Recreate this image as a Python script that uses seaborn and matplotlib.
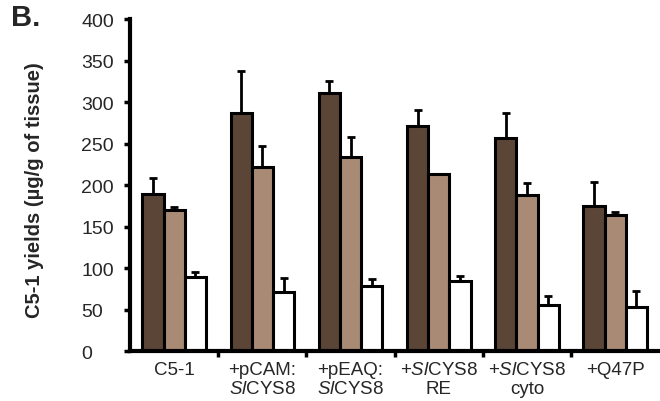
import pandas as pd
import matplotlib
matplotlib.use("Agg")
import matplotlib.pyplot as plt
import seaborn as sns

# values
groups = ["C5-1", "+pCAM:\n$\\it{Sl}$CYS8", "+pEAQ:\n$\\it{Sl}$CYS8",
          "+$\\it{Sl}$CYS8\nRE", "+$\\it{Sl}$CYS8\ncyto", "+Q47P"]
series = ["s1", "s2", "s3"]
s1_vals = [189, 287, 311, 271, 257, 175]
s1_err = [20, 51, 14, 20, 30, 29]
s2_vals = [170, 222, 234, 213, 188, 164]
s2_err = [4, 25, 24, 0, 15, 4]
s3_vals = [89, 71, 78, 85, 55, 53]
s3_err = [6, 17, 9, 6, 12, 20]
yticks = [0, 50, 100, 150, 200, 250, 300, 350, 400]

colors = ["#5b4536", "#a98b75", "#ffffff"]

sns.set_theme(style="white")
plt.rcParams["font.family"] = ["Liberation Sans", "DejaVu Sans"]
plt.rcParams["mathtext.fontset"] = "custom"
plt.rcParams["mathtext.rm"] = "Liberation Sans"
plt.rcParams["mathtext.it"] = "Liberation Sans:italic"

df = pd.DataFrame({
    "group": groups * 3,
    "series": [s for s in series for _ in groups],
    "value": s1_vals + s2_vals + s3_vals,
})
errs = s1_err + s2_err + s3_err

fig = plt.figure(figsize=(6.6, 4.02), dpi=100)
ax = fig.add_axes([0.197, 0.124, 0.802, 0.826])

sns.barplot(data=df, x="group", y="value", hue="series", order=groups,
            hue_order=series, palette=colors, width=0.72, edgecolor="black",
            linewidth=2.2, errorbar=None, legend=False, ax=ax, saturation=1)

# one-sided error bars, placed on the drawn bars
bars = [p for p in ax.patches if p.get_height() > 0]
for p, e in zip(bars, errs):
    xc = p.get_x() + p.get_width() / 2
    h = p.get_height()
    ax.errorbar(xc, h, yerr=[[0], [e]], fmt="none", ecolor="black",
                elinewidth=2, capsize=3, capthick=2, zorder=1)

ax.set_ylim(0, 400)
ax.set_xlim(-0.5, len(groups) - 0.5)
ax.set_yticks(yticks)
ax.set_yticklabels([str(t) for t in yticks], fontsize=14, ha="left")
ax.set_xticks(range(len(groups)))
ax.set_xticklabels(groups, fontsize=13.5, linespacing=1.2)
ax.set_xticks([i + 0.5 for i in range(len(groups) - 1)], minor=True)
ax.tick_params(axis="x", which="major", length=0, pad=7)
ax.tick_params(axis="x", which="minor", length=4, width=2.5, direction="out",
               bottom=True, color="black")
ax.tick_params(axis="y", length=4, width=2.5, direction="out", left=True,
               color="black", pad=31)
ax.set_xlabel("")
ax.set_ylabel("C5-1 yields (µg/g of tissue)", fontsize=14.5, fontweight="bold")
ax.yaxis.set_label_coords(-0.163, 0.488)

sns.despine(ax=ax)
for side in ["left", "bottom"]:
    ax.spines[side].set_linewidth(3)
    ax.spines[side].set_color("black")

fig.text(0.016, 0.935, "B.", fontsize=21, fontweight="bold")

fig.savefig("out.png", dpi=100)
